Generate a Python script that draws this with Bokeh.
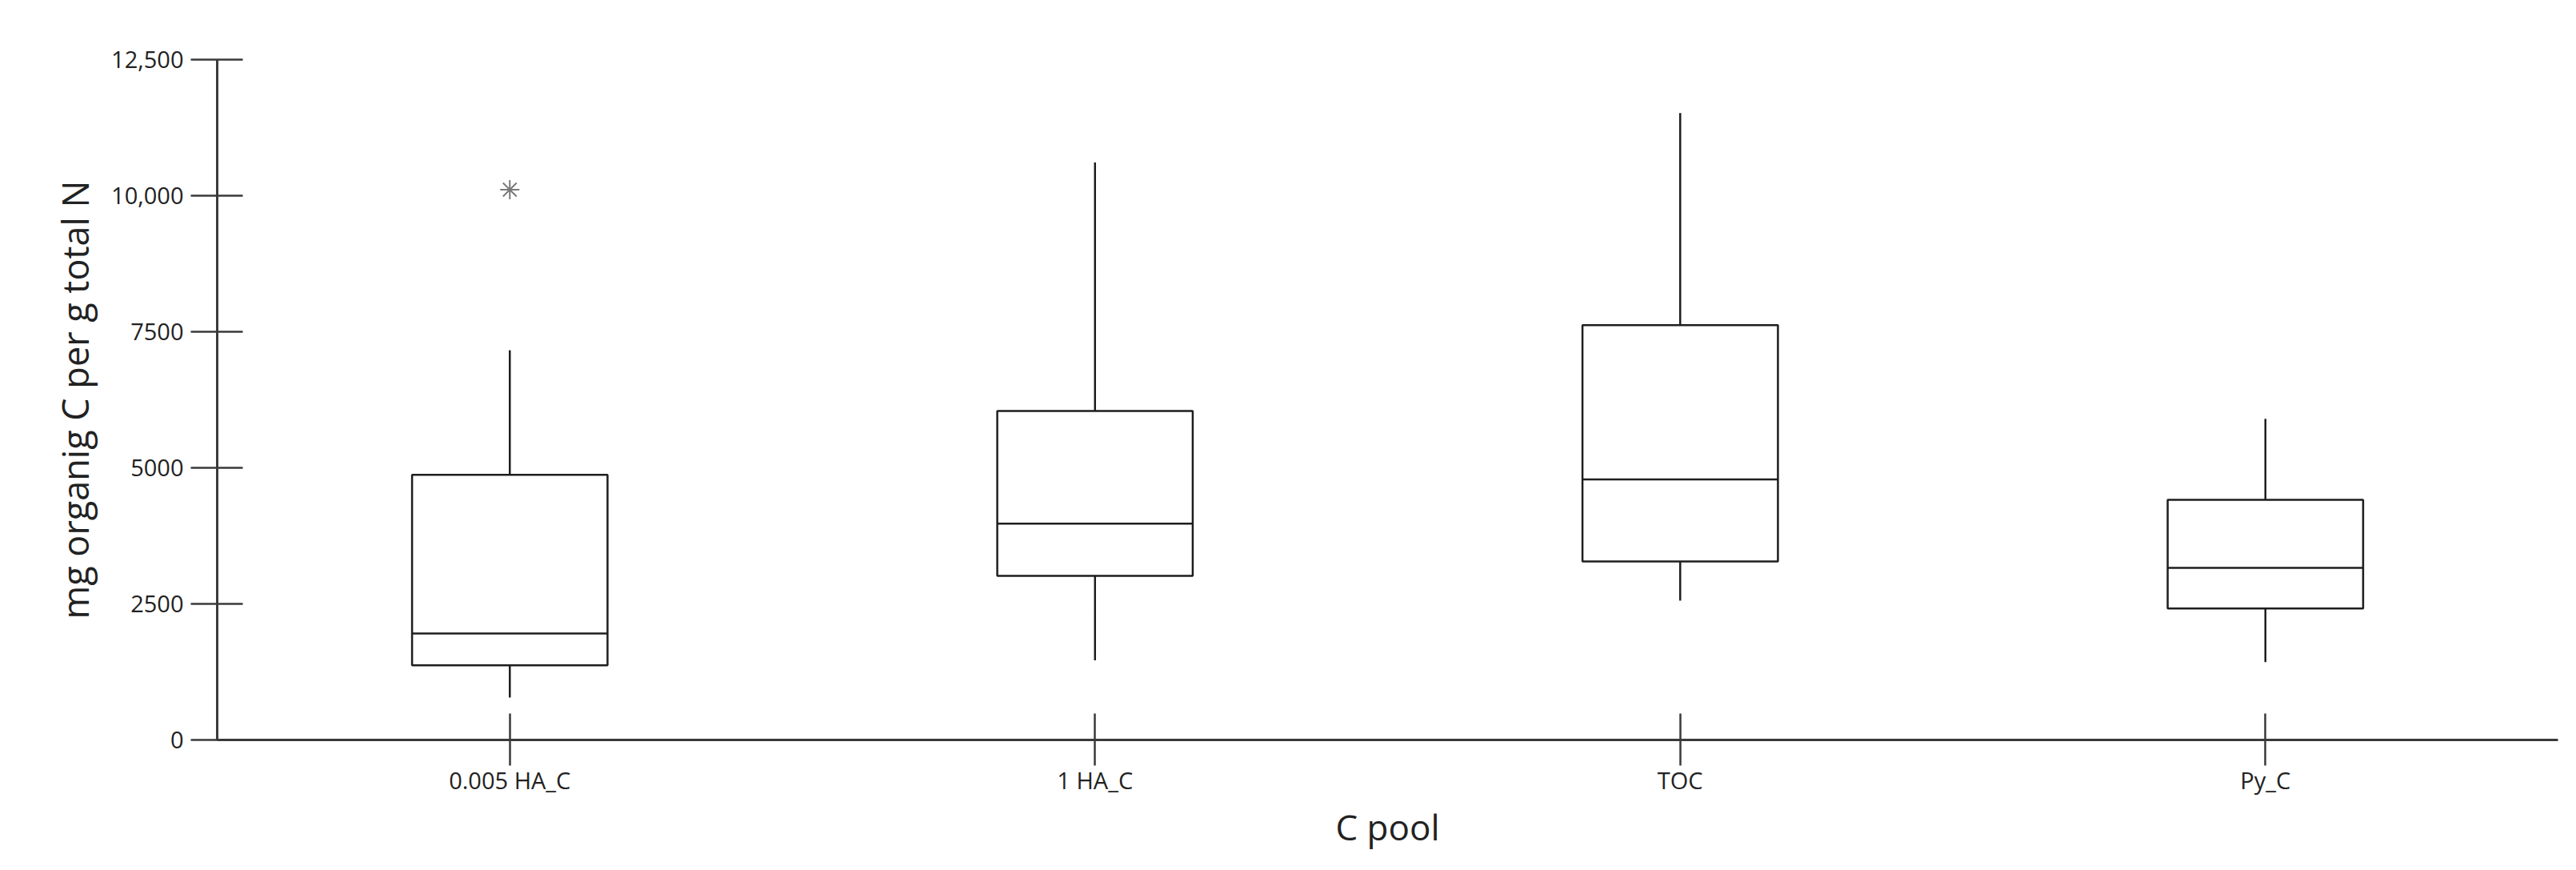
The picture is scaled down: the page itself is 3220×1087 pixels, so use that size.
from bokeh.plotting import figure
from bokeh.models import ColumnDataSource, Range1d, FactorRange, FixedTicker
from bokeh.transform import dodge
from bokeh.embed import file_html
from bokeh.resources import INLINE

categories = ["0.005 HA_C", "1 HA_C", "TOC", "Py_C"]
upper_whisker = [7160, 10610, 11520, 5900]
q3 = [4870, 6045, 7620, 4410]
median = [1955, 3975, 4785, 3160]
q1 = [1370, 3015, 3280, 2415]
lower_whisker = [780, 1465, 2560, 1430]

outlier_cats = ["0.005 HA_C"]
outlier_vals = [10110]

y_ticks = [0, 2500, 5000, 7500, 10000, 12500]
y_tick_labels = ["0", "2500", "5000", "7500", "10,000", "12,500"]

FONT = "Open Sans"
LINE = "#1e1e1e"
AXIS = "#3a3a3a"
BOX_W = 0.334

src = ColumnDataSource(dict(cat=categories, up=upper_whisker, q3=q3,
                            med=median, q1=q1, lo=lower_whisker))

p = figure(x_range=FactorRange(*categories), y_range=Range1d(0, 12500),
           width=3204, height=1071, output_backend="svg", toolbar_location=None,
           min_border_left=271, min_border_right=7, min_border_top=74,
           min_border_bottom=147)
p.outline_line_color = None
p.xgrid.grid_line_color = None
p.ygrid.grid_line_color = None
p.background_fill_color = "white"
p.border_fill_color = "white"

# whiskers
p.segment(x0="cat", y0="q3", x1="cat", y1="up", source=src, line_color=LINE, line_width=2.5)
p.segment(x0="cat", y0="q1", x1="cat", y1="lo", source=src, line_color=LINE, line_width=2.5)
# boxes
p.vbar(x="cat", width=BOX_W, top="q3", bottom="q1", source=src,
       fill_color="white", line_color=LINE, line_width=2.5)
# medians
p.segment(x0=dodge("cat", -BOX_W / 2, range=p.x_range), y0="med",
          x1=dodge("cat", BOX_W / 2, range=p.x_range), y1="med",
          source=src, line_color=LINE, line_width=2.5)
# outlier
p.scatter(x=outlier_cats, y=outlier_vals, marker="asterisk", size=24,
          line_color="#7a7a7a", line_width=2)

# axes
p.yaxis.ticker = FixedTicker(ticks=y_ticks)
p.yaxis.major_label_overrides = {t: l for t, l in zip(y_ticks, y_tick_labels)}
for ax in (p.xaxis[0], p.yaxis[0]):
    ax.axis_line_color = AXIS
    ax.axis_line_width = 3
    ax.major_tick_line_color = AXIS
    ax.major_tick_line_width = 2.5
    ax.minor_tick_line_color = None
    ax.major_label_text_font = FONT
    ax.major_label_text_font_size = "29px"
    ax.major_label_text_color = "#222222"
    ax.axis_label_text_font = FONT
    ax.axis_label_text_font_style = "normal"
    ax.axis_label_text_color = "#222222"

p.yaxis.major_tick_in = 32
p.yaxis.major_tick_out = 33
p.yaxis.major_label_standoff = 9
p.yaxis.axis_label = "mg organig C per g total N"
p.yaxis.axis_label_text_font_size = "45px"
p.yaxis.axis_label_standoff = 12

p.xaxis.major_tick_in = 33
p.xaxis.major_tick_out = 32
p.xaxis.major_label_standoff = -2
p.xaxis.axis_label = "C pool"
p.xaxis.axis_label_text_font_size = "44px"
p.xaxis.axis_label_standoff = 6

open("out.html", "w").write(file_html(p, INLINE))
